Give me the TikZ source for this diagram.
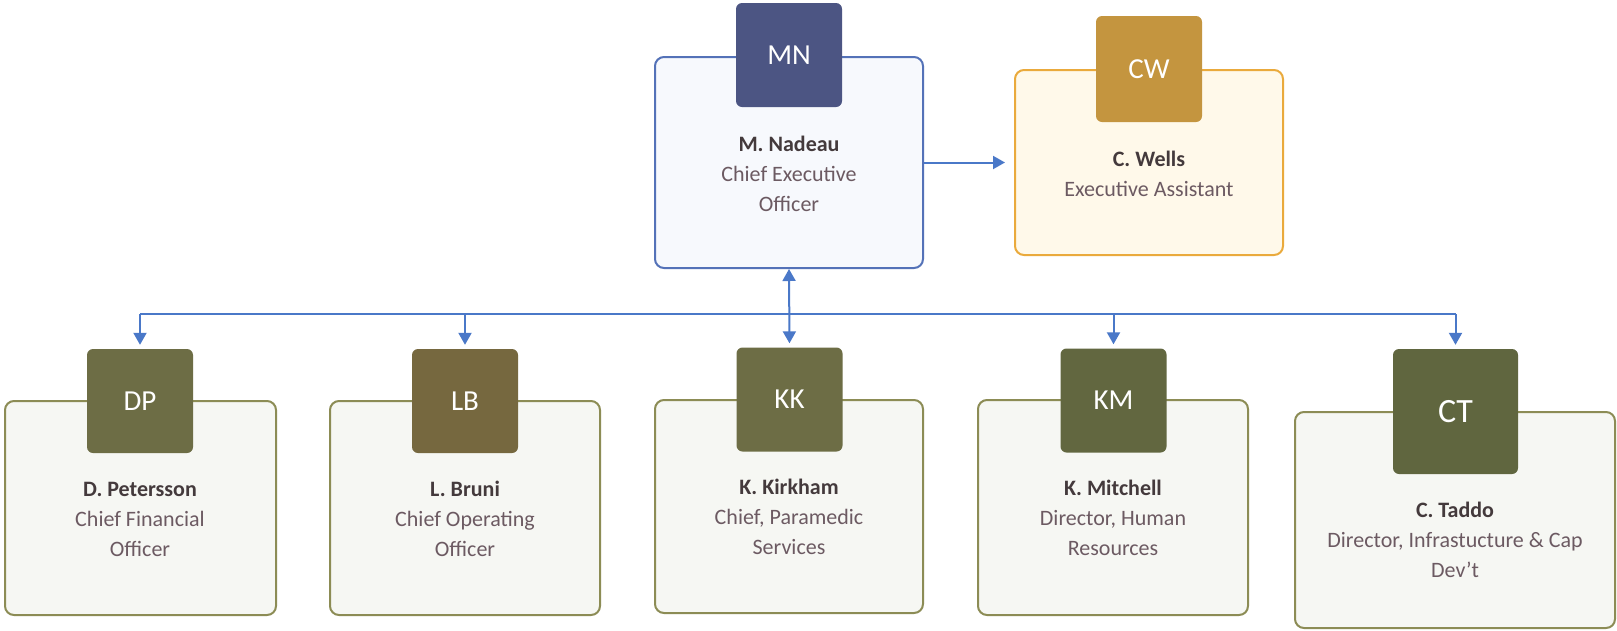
\documentclass[tikz,border=0pt]{standalone}
\usepackage{fontspec}
\setmainfont{Carlito}
\usetikzlibrary{arrows.meta}
\definecolor{linkblue}{HTML}{4A78C8}
\definecolor{mnedge}{HTML}{5472B8}
\definecolor{mnfill}{HTML}{F7F9FD}
\definecolor{mnbadge}{HTML}{4C5583}
\definecolor{cwedge}{HTML}{EAAA3C}
\definecolor{cwfill}{HTML}{FFF9EA}
\definecolor{cwbadge}{HTML}{C4953F}
\definecolor{greenedge}{HTML}{8C8C55}
\definecolor{greenfill}{HTML}{F6F7F3}
\definecolor{olivebadge}{HTML}{6D6D45}
\definecolor{brownbadge}{HTML}{76683F}
\definecolor{darkolive}{HTML}{60663F}
\definecolor{nametext}{HTML}{443A3C}
\definecolor{roletext}{HTML}{6C5A62}
\begin{document}
\begin{tikzpicture}[x=1pt,y=-1pt,
  card/.style={draw, line width=2pt, rounded corners=9pt, inner sep=0pt},
  greencard/.style={card, draw=greenedge, fill=greenfill},
  badge/.style={rounded corners=6pt, inner sep=0pt, text=white,
    minimum width=106pt, minimum height=104pt, font=\fontsize{29}{29}\selectfont},
  info/.style={align=center, inner sep=0pt, font=\fontsize{22}{30}\selectfont, text=roletext},
  link/.style={draw=linkblue, line width=2pt, -{Triangle[width=13pt,length=12pt]}},
]
\useasboundingbox (0,0) rectangle (1617,630);
\fill[white] (0,0) rectangle (1617,630);

% cards
\node[card, draw=mnedge, fill=mnfill, minimum width=268pt, minimum height=211pt] (MN) at (789,162.5) {};
\node[card, draw=cwedge, fill=cwfill, minimum width=268pt, minimum height=185pt] (CW) at (1149,162.5) {};
\node[greencard, minimum width=271pt, minimum height=214pt] (DP) at (140.5,508) {};
\node[greencard, minimum width=270pt, minimum height=214pt] (LB) at (465,508) {};
\node[greencard, minimum width=268pt, minimum height=213pt] (KK) at (789,506.5) {};
\node[greencard, minimum width=270pt, minimum height=215pt] (KM) at (1113,507.5) {};
\node[greencard, minimum width=320pt, minimum height=216pt] (CT) at (1455,520) {};

% badges
\node[badge, fill=mnbadge] (MNb) at (789,55) {MN};
\node[badge, fill=cwbadge, minimum height=106pt] (CWb) at (1149,69) {CW};
\node[badge, fill=olivebadge] (DPb) at (140,401) {DP};
\node[badge, fill=brownbadge] (LBb) at (465,401) {LB};
\node[badge, fill=olivebadge] (KKb) at (789.5,399.5) {KK};
\node[badge, fill=darkolive!85!olivebadge] (KMb) at (1113.5,400.5) {KM};
\node[badge, fill=darkolive, minimum width=125pt, minimum height=125pt,
  font=\fontsize{34}{34}\selectfont] (CTb) at (1455.5,411.5) {CT};

% texts
\node[info] (MNt) at (789,174) {\textcolor{nametext}{\bfseries M. Nadeau}\\Chief Executive\\Officer};
\node[info] (CWt) at (1149,174) {\textcolor{nametext}{\bfseries C. Wells}\\Executive Assistant};
\node[info] (DPt) at (140,519) {\textcolor{nametext}{\bfseries D. Petersson}\\Chief Financial\\Officer};
\node[info] (LBt) at (465,519) {\textcolor{nametext}{\bfseries L. Bruni}\\Chief Operating\\Officer};
\node[info] (KKt) at (789,517) {\textcolor{nametext}{\bfseries K. Kirkham}\\Chief, Paramedic\\Services};
\node[info] (KMt) at (1113,518) {\textcolor{nametext}{\bfseries K. Mitchell}\\Director, Human\\Resources};
\node[info] (CTt) at (1455,540) {\textcolor{nametext}{\bfseries C. Taddo}\\Director, Infrastucture \& Cap\\Dev{\char"0027}t};

% connectors
\draw[link, shorten >=9pt] (MN.east) -- (CW.west);
\coordinate (hub) at (789,314);
\draw[link, {Triangle[width=13pt,length=12pt]}-{Triangle[width=13pt,length=12pt]}, shorten >=4pt] (MN.south) -- (KKb.north);
\draw[linkblue, line width=2pt] (DPb.north |- hub) -- (CTb.north |- hub);
\foreach \b in {DPb,LBb,KMb,CTb}
  \draw[link, shorten >=4pt] (\b.north |- hub) -- (\b.north);
\end{tikzpicture}
\end{document}
